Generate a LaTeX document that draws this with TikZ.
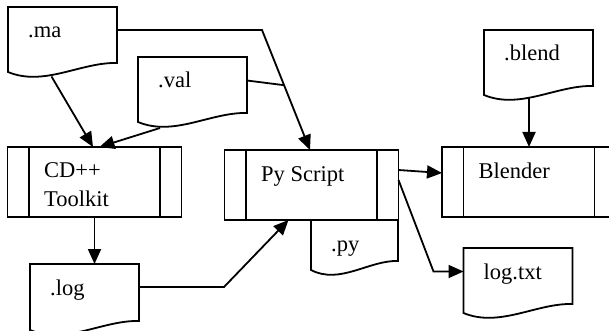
\documentclass[tikz,border=0pt]{standalone}
\usepackage{fontspec}
\setmainfont{Liberation Serif}
\usetikzlibrary{arrows.meta,calc}

% Outline of a document shape round a node
\newcommand{\docline}[1]{%
  \draw[line width=1.8pt] (#1.south west) -- (#1.north west) -- (#1.north east) -- ([yshift=9pt]#1.south east)
    .. controls ($(#1.south west)!0.67!(#1.south east)+(0pt,10pt)$) and ($(#1.south west)!0.33!(#1.south east)+(0pt,-15pt)$) .. cycle;}

\tikzset{
  txt/.style={font=\fontsize{22.5}{28.7}\selectfont, inner sep=0pt, align=left},
  doc/.style={minimum width=109pt, minimum height=65pt, inner sep=0pt, outer sep=0pt, anchor=north west,
    label={[txt, anchor=base west, xshift=20pt, yshift=-31pt]north west:#1}},
  procbox/.style={draw, line width=1.8pt, minimum width=174pt, minimum height=70pt, inner sep=0pt, outer sep=0pt,
    anchor=north west,
    path picture={
      \draw[line width=1.8pt] ([xshift=21.5pt]path picture bounding box.north west) -- ([xshift=21.5pt]path picture bounding box.south west);
      \draw[line width=1.8pt] ([xshift=-21.5pt]path picture bounding box.north east) -- ([xshift=-21.5pt]path picture bounding box.south east);}},
  boxtext/.style={label={[txt, anchor=base west, xshift=36.5pt, yshift=-31pt]north west:#1}},
  arr/.style={-{Triangle[length=15pt,width=13pt]}, line width=1.8pt}
}

\begin{document}
\begin{tikzpicture}[x=1pt,y=-1pt]
\useasboundingbox (0,0) rectangle (609,331);

% Input files
\node[doc={.ma}] (ma) at (8,7) {};
\docline{ma}
\node[doc={.val}] (val) at (138,57) {};
\docline{val}
\node[doc={.blend}] (blend) at (484,30) {};
\docline{blend}

% Processes
\node[procbox, label={[txt, anchor=base west, xshift=36.5pt, yshift=-59pt]north west:{CD++\\Toolkit}}] (cdpp) at (7.5,147) {};
\node[procbox, boxtext={Py Script}] (pyscr) at (224.5,150) {};
\node[procbox, boxtext={Blender}] (blender) at (442,147) {};

% Output files
\node[doc={.py}, minimum width=87pt, minimum height=50pt] (py) at (311,220) {};
\docline{py}
\node[doc={.log}, minimum height=66pt] (log) at (30,264) {};
\docline{log}
\node[doc={log.txt}] (logtxt) at (463.5,248) {};
\docline{logtxt}

% Connections into CD++
\draw[arr] ([xshift=-11pt,yshift=-4.5pt]ma.south) -- ([xshift=-1.5pt]cdpp.north);
\draw[arr] ([xshift=-32.5pt,yshift=-6pt]val.south) -- ([xshift=5pt]cdpp.north);

% Connections into Py Script
\draw[arr] ([yshift=9.5pt]ma.east) -- ++(145,0) -- coordinate[pos=0.46] (join) ([xshift=-1.5pt]pyscr.north);
\draw[line width=1.8pt] ([yshift=9pt]val.east) -- (join);
\draw[arr] (cdpp.south) -- (cdpp.south |- log.north);
\draw[arr] ([yshift=10pt]log.east) -- ++(85,0) -- ([xshift=-23pt]pyscr.south);

% Outputs of Py Script
\draw[arr] ([yshift=15pt]pyscr.east) -- ([yshift=9pt]blender.west);
\draw[arr] ([yshift=5pt]pyscr.east) -- ([xshift=-30pt,yshift=9pt]logtxt.west) -- ([yshift=9pt]logtxt.west);

% Into Blender
\draw[arr] ([yshift=-3pt]blender.north |- blend.south) -- (blender.north);
\end{tikzpicture}
\end{document}
